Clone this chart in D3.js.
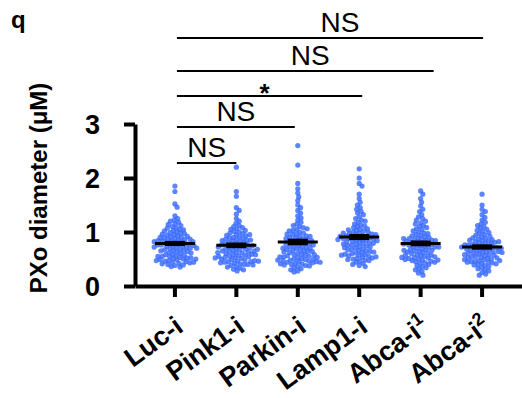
<!DOCTYPE html>
<html>
<head>
<meta charset="utf-8">
<script src="https://cdn.jsdelivr.net/npm/d3@7"></script>
<style>
  body { margin: 0; background: #fff; }
  svg { display: block; font-family: "Liberation Sans", Arial, sans-serif; }
</style>
</head>
<body>
<figure id="dots" style="margin:0"></figure>
<script>
// groups on the x axis
const categories = ["Luc-i", "Pink1-i", "Parkin-i", "Lamp1-i", "Abca-i1", "Abca-i2"];
const labelBase = ["Luc-i", "Pink1-i", "Parkin-i", "Lamp1-i", "Abca-i", "Abca-i"];
const labelSup = ["", "", "", "", "1", "2"];

// PXo diameter (uM)
const lucValues = [1.85,1.75,1.52,1.46,1.30,1.25,1.22,1.20,1.18,1.15,1.14,1.12,1.10,1.08,1.07,1.05,1.04,1.03,1.02,1.00,0.99,0.98,0.97,0.96,0.95,0.94,0.93,0.92,0.91,0.90,0.90,0.89,0.88,0.87,0.86,0.86,0.85,0.84,0.84,0.83,0.82,0.82,0.81,0.80,0.80,0.79,0.78,0.78,0.77,0.76,0.76,0.75,0.74,0.74,0.73,0.72,0.72,0.71,0.70,0.70,0.69,0.68,0.67,0.66,0.66,0.65,0.64,0.63,0.62,0.61,0.60,0.59,0.58,0.57,0.56,0.55,0.54,0.53,0.52,0.51,0.50,0.48,0.47,0.46,0.44,0.42,0.40,0.38,0.36,0.35,0.49,0.45,0.43,0.52,0.41,0.47,0.55,0.39,0.44,0.50];
const pink1Values = [2.20,1.75,1.66,1.45,1.40,1.33,1.25,1.20,1.16,1.12,1.10,1.08,1.06,1.05,1.03,1.01,1.00,0.98,0.97,0.95,0.94,0.93,0.91,0.90,0.89,0.88,0.87,0.86,0.85,0.84,0.83,0.82,0.81,0.80,0.79,0.78,0.77,0.76,0.75,0.74,0.73,0.72,0.71,0.70,0.69,0.68,0.67,0.66,0.65,0.64,0.63,0.62,0.61,0.60,0.59,0.58,0.57,0.56,0.55,0.54,0.53,0.52,0.51,0.50,0.49,0.48,0.46,0.45,0.44,0.42,0.41,0.40,0.38,0.36,0.35,0.33,0.31,0.30,0.28,0.40,0.45,0.55,0.65,0.75,0.85,0.95,0.62,0.72,0.58,0.68,0.47,0.43,0.52,0.39,0.46];
const parkinValues = [2.60,2.24,1.90,1.80,1.72,1.65,1.58,1.50,1.45,1.40,1.35,1.30,1.26,1.22,1.18,1.15,1.12,1.10,1.08,1.05,1.03,1.00,0.98,0.96,0.95,0.93,0.92,0.90,0.89,0.88,0.86,0.85,0.84,0.82,0.81,0.80,0.79,0.78,0.77,0.75,0.74,0.73,0.72,0.71,0.70,0.69,0.68,0.67,0.66,0.65,0.64,0.63,0.62,0.60,0.59,0.58,0.57,0.56,0.55,0.54,0.52,0.51,0.50,0.49,0.48,0.46,0.45,0.44,0.42,0.41,0.40,0.38,0.36,0.34,0.32,0.30,0.28,0.26,0.88,0.92,0.76,0.70,0.64,0.58,0.54,1.02,1.06,0.84,0.96,0.47,0.43,0.50,0.39,0.45,0.53,0.41,0.48,0.37,0.44];
const lamp1Values = [2.17,2.00,1.90,1.85,1.70,1.62,1.55,1.50,1.45,1.42,1.38,1.35,1.32,1.28,1.25,1.22,1.20,1.18,1.15,1.13,1.11,1.10,1.08,1.06,1.05,1.03,1.02,1.00,0.99,0.98,0.97,0.96,0.95,0.94,0.93,0.92,0.91,0.90,0.89,0.88,0.87,0.86,0.85,0.84,0.83,0.82,0.81,0.80,0.79,0.78,0.77,0.76,0.75,0.74,0.73,0.72,0.71,0.70,0.69,0.68,0.67,0.66,0.65,0.64,0.62,0.61,0.60,0.58,0.57,0.55,0.53,0.51,0.50,0.48,0.46,0.44,0.42,0.40,0.38,0.36,0.95,0.88,0.92,0.84,1.04,0.98,0.78,0.86,0.56,0.52,0.59,0.49,0.54,0.63,0.47,0.57];
const abca1Values = [1.76,1.70,1.62,1.55,1.48,1.42,1.38,1.32,1.28,1.25,1.22,1.20,1.17,1.15,1.12,1.10,1.08,1.06,1.04,1.02,1.00,0.98,0.97,0.95,0.94,0.93,0.91,0.90,0.89,0.88,0.87,0.86,0.85,0.84,0.83,0.82,0.81,0.80,0.79,0.78,0.77,0.76,0.75,0.74,0.73,0.72,0.71,0.70,0.69,0.68,0.67,0.66,0.65,0.64,0.63,0.62,0.61,0.60,0.58,0.57,0.56,0.55,0.53,0.52,0.50,0.48,0.47,0.45,0.43,0.42,0.40,0.38,0.36,0.34,0.32,0.30,0.27,0.24,0.20,0.84,0.78,0.72,0.88,0.66,0.51,0.46,0.54,0.49,0.44,0.57,0.48,0.53];
const abca2Values = [1.70,1.50,1.42,1.38,1.32,1.27,1.22,1.18,1.15,1.12,1.10,1.07,1.05,1.03,1.01,0.99,0.97,0.95,0.94,0.92,0.91,0.89,0.88,0.87,0.86,0.85,0.84,0.83,0.82,0.81,0.80,0.79,0.78,0.77,0.76,0.75,0.74,0.73,0.72,0.71,0.70,0.69,0.68,0.67,0.66,0.65,0.64,0.63,0.62,0.61,0.60,0.59,0.58,0.57,0.56,0.55,0.54,0.53,0.52,0.51,0.50,0.48,0.47,0.46,0.44,0.43,0.42,0.40,0.38,0.36,0.34,0.32,0.30,0.28,0.25,0.22,0.20,0.76,0.70,0.64,0.58,0.82,0.68,0.72,0.62,0.52,0.45,0.41,0.49,0.44,0.47,0.39];
const groupValues = [lucValues, pink1Values, parkinValues, lamp1Values, abca1Values, abca2Values];

const yTicks = [0, 1, 2, 3];

// significance brackets, all against Luc-i
const compareWith = ["Pink1-i", "Parkin-i", "Lamp1-i", "Abca-i1", "Abca-i2"];
const sigLabels = ["NS", "NS", "*", "NS", "NS"];
const bracketY = [163, 127, 96, 71, 38];
const bracketEndPad = [0, -3, 3, 13, 1];
const labelDx = [0, 0, -5, 5, 10];

const width = 522, height = 398;
const dotR = 2.6, packR = 1.95;

const svg = d3.select("figure#dots")
  .append("svg")
  .attr("width", width)
  .attr("height", height);

const x = d3.scaleBand()
  .domain(categories)
  .range([135, 522])
  .paddingInner(0)
  .paddingOuter(0.15);
const cx = c => x(c) + x.bandwidth() / 2;

const y = d3.scaleLinear()
  .domain([0, 3])
  .range([286, 124]);

// beeswarm: put each dot as close to the centre as it can go without overlap
function swarm(values) {
  const placed = [];
  values.forEach(v => {
    const py = y(v);
    const near = placed.filter(p => Math.abs(p.y - py) < 2 * packR);
    const cands = [0];
    near.forEach(p => {
      const dx = Math.sqrt(4 * packR * packR - (p.y - py) ** 2);
      cands.push(p.x + dx, p.x - dx);
    });
    cands.sort((a, b) => Math.abs(a) - Math.abs(b));
    const ok = cands.find(c => near.every(p => (p.x - c) ** 2 + (p.y - py) ** 2 >= 4 * packR * packR - 0.01));
    placed.push({ x: ok, y: py });
  });
  return placed;
}

// dots
categories.forEach((c, i) => {
  svg.append("g")
    .selectAll("circle")
    .data(swarm(groupValues[i]))
    .enter()
    .append("circle")
    .attr("cx", d => cx(c) + d.x)
    .attr("cy", d => d.y)
    .attr("r", dotR)
    .attr("fill", "#3366ff")
    .attr("fill-opacity", 0.8);
});

// mean and SEM
categories.forEach((c, i) => {
  const vals = groupValues[i];
  const m = d3.mean(vals);
  const sem = d3.deviation(vals) / Math.sqrt(vals.length);
  const g = svg.append("g").attr("stroke", "#000");
  g.append("line")
    .attr("x1", cx(c) - 20).attr("x2", cx(c) + 20)
    .attr("y1", y(m)).attr("y2", y(m))
    .attr("stroke-width", 3);
  g.append("rect")
    .attr("x", cx(c) - 10).attr("width", 20)
    .attr("y", y(m + sem) - 1).attr("height", y(m - sem) - y(m + sem) + 2)
    .attr("fill", "#000").attr("stroke", "none");
});

// y axis
const yAxis = svg.append("g")
  .attr("transform", "translate(135,0)")
  .call(d3.axisLeft(y).tickValues(yTicks).tickFormat(d3.format("d")).tickSize(11).tickSizeOuter(0).tickPadding(24));
yAxis.select(".domain").attr("stroke-width", 4);
yAxis.selectAll(".tick line").attr("stroke-width", 4);
yAxis.selectAll(".tick text")
  .attr("font-family", "Liberation Sans, Arial, sans-serif")
  .attr("font-size", 27).attr("font-weight", "bold").attr("fill", "#000")
  .attr("dy", "0.36em");

// x axis
const xAxis = svg.append("g")
  .attr("transform", "translate(0,286)")
  .call(d3.axisBottom(x).tickSize(11).tickSizeOuter(0).tickFormat(""));
xAxis.select(".domain").attr("stroke-width", 4);
xAxis.selectAll(".tick line").attr("stroke-width", 4);

// rotated x labels with superscripts
categories.forEach((c, i) => {
  const t = svg.append("text")
    .attr("transform", `translate(${cx(c) + 10},330) rotate(-36)`)
    .attr("text-anchor", "end")
    .attr("font-size", 27)
    .attr("font-weight", "bold");
  t.append("tspan").text(labelBase[i]);
  if (labelSup[i]) {
    t.append("tspan")
      .attr("font-size", 18)
      .attr("dy", -11)
      .text(labelSup[i]);
  }
});

// y title
svg.append("text")
  .attr("transform", "translate(47,188) rotate(-90)")
  .attr("text-anchor", "middle")
  .attr("font-size", 24)
  .attr("font-weight", "bold")
  .text("PXo diameter (μM)");

// panel letter
svg.append("text")
  .attr("x", 11).attr("y", 28)
  .attr("font-size", 24)
  .attr("font-weight", "bold")
  .text("q");

// brackets
compareWith.forEach((c, i) => {
  const x1 = cx(categories[0]) + 2, x2 = cx(c) + bracketEndPad[i];
  svg.append("line")
    .attr("x1", x1).attr("x2", x2)
    .attr("y1", bracketY[i]).attr("y2", bracketY[i])
    .attr("stroke", "#000").attr("stroke-width", 2);
  const star = sigLabels[i] === "*";
  svg.append("text")
    .attr("x", (x1 + x2) / 2 + labelDx[i])
    .attr("y", star ? bracketY[i] + 6 : bracketY[i] - 6)
    .attr("text-anchor", "middle")
    .attr("font-size", star ? 26 : 28)
    .attr("font-weight", star ? "bold" : "normal")
    .text(sigLabels[i]);
});
</script>
</body>
</html>
